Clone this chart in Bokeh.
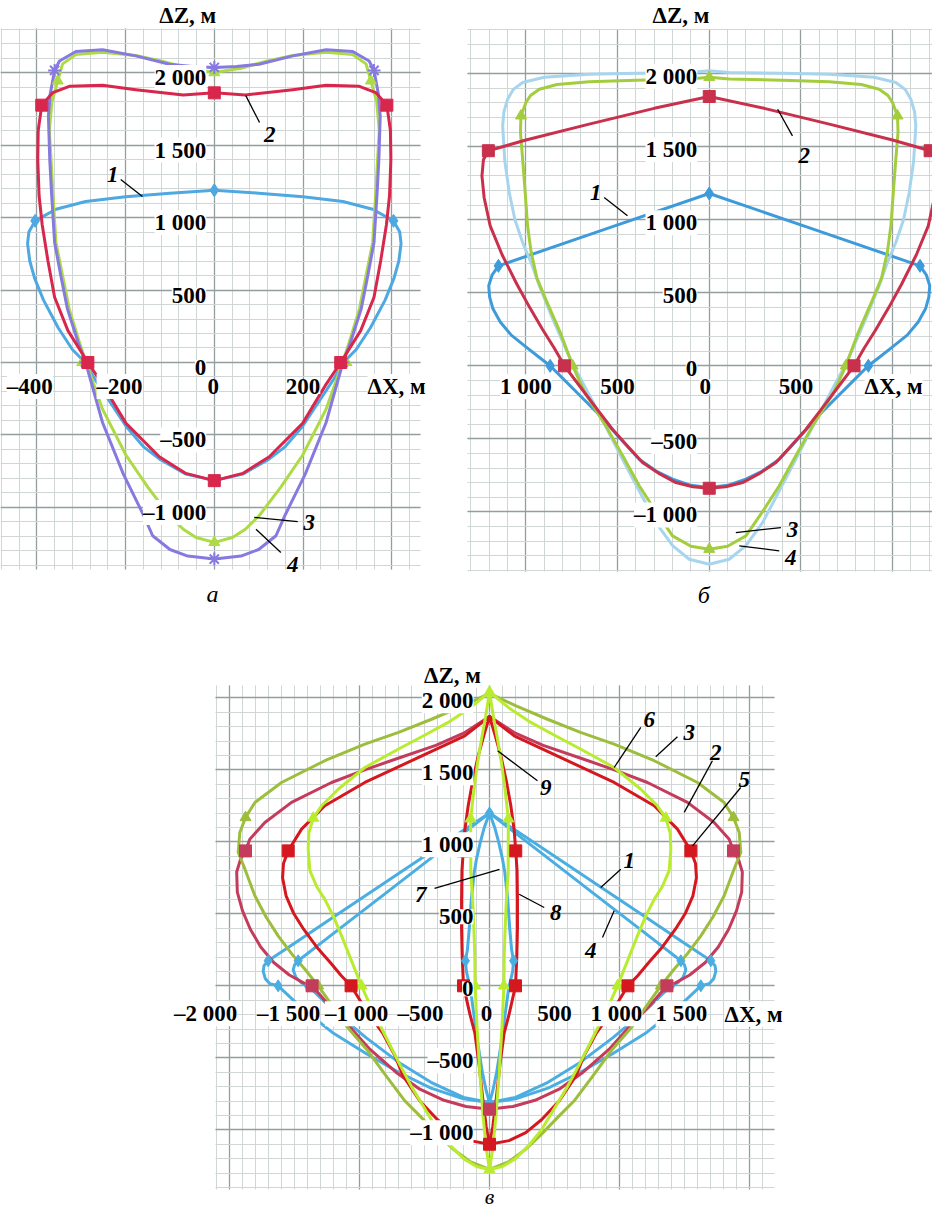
import math
from bokeh.plotting import figure
from bokeh.models import ColumnDataSource, LabelSet, Range1d, Grid, SingleIntervalTicker
from bokeh.layouts import column, row
from bokeh.core.properties import value
from bokeh.embed import file_html
from bokeh.resources import INLINE

FONT = "Liberation Serif"

# ====================== DATA (ΔX, ΔZ in metres) ======================
# ---- panel а ----
A_CURVE1 = [(0,1188),(100,1168),(200,1143),(290,1110),(357,1057),(404,977),(418,900),(421,820),(416,700),(405,580),(385,430),(352,240),(320,90),(291,0),(268,-120),(240,-250),(199,-440),(160,-580),(124,-665),(64,-770),(0,-815),
            (-64,-770),(-124,-665),(-160,-580),(-199,-440),(-240,-250),(-268,-120),(-291,0),(-320,90),(-352,240),(-385,430),(-405,580),(-416,700),(-421,820),(-418,900),(-404,977),(-357,1057),(-290,1110),(-200,1143),(-100,1168),(0,1188)]
A_CURVE2 = [(0,1860),(70,1845),(177,1882),(252,1912),(327,1905),(364,1862),(389,1775),(397,1600),(398,1400),(395,1150),(388,950),(375,700),(360,450),(330,220),(285,0),(250,-160),(199,-420),(124,-650),(64,-765),(0,-815),
            (-64,-765),(-124,-650),(-199,-420),(-250,-160),(-285,0),(-330,220),(-360,450),(-375,700),(-388,950),(-395,1150),(-398,1400),(-397,1600),(-389,1775),(-364,1862),(-327,1905),(-252,1912),(-177,1882),(-70,1845),(0,1860)]
A_CURVE3 = [(0,2000),(60,2030),(120,2080),(177,2118),(252,2140),(312,2125),(342,2060),(353,1943),(366,1800),(372,1600),(368,1400),(364,1172),(357,828),(342,598),(327,368),(304,138),(289,0),(252,-322),(199,-640),(150,-860),(101,-1057),(70,-1150),(41,-1207),(0,-1241),
            (-41,-1207),(-70,-1150),(-101,-1057),(-150,-860),(-199,-640),(-252,-322),(-289,0),(-304,138),(-327,368),(-342,598),(-357,828),(-364,1172),(-368,1400),(-372,1600),(-366,1800),(-353,1943),(-342,2060),(-312,2125),(-252,2140),(-177,2118),(-120,2080),(-60,2030),(0,2000)]
A_CURVE4 = [(0,2035),(50,2042),(101,2057),(177,2115),(252,2157),(312,2145),(349,2080),(360,2015),(370,1850),(374,1700),(371,1402),(367,1172),(360,828),(346,598),(331,368),(307,138),(290,0),(252,-414),(205,-770),(160,-1050),(139,-1195),(100,-1290),(60,-1335),(0,-1356),
            (-60,-1335),(-100,-1290),(-139,-1195),(-160,-1050),(-205,-770),(-252,-414),(-290,0),(-307,138),(-331,368),(-346,598),(-360,828),(-367,1172),(-371,1402),(-374,1700),(-370,1850),(-360,2015),(-349,2080),(-312,2145),(-252,2157),(-177,2115),(-101,2057),(-50,2042),(0,2035)]
A_MARKS1 = [(0,1188),(404,977),(-404,977),(291,0),(-291,0)]
A_MARKS2 = [(0,1860),(389,1775),(-389,1775),(285,0),(-285,0),(0,-815)]
A_MARKS3 = [(0,2000),(353,1943),(-353,1943),(298,0),(-298,0),(0,-1241)]
A_MARKS4 = [(0,2035),(360,2015),(-360,2015),(290,0),(-290,0),(0,-1356)]
A_YTICKS = [2000, 1500, 1000, 500, 0, -500, -1000]
A_YLABELS = ["2 000", "1 500", "1 000", "500", "0", "–500", "–1 000"]
A_XTICKS = [-400, -200, 0, 200]
A_XLABELS = ["–400", "–200", "0", "200"]

# ---- panel б ----
B_CURVE1 = [(0,1179),(575,932),(1150,684),(1185,620),(1203,548),(1198,470),(1180,390),(1140,300),(1080,210),(1000,130),(930,60),(868,0),(780,-110),(700,-210),(620,-310),(564,-388),(470,-520),(382,-639),(290,-720),(200,-776),(100,-818),(0,-833),
            (-100,-818),(-200,-776),(-290,-720),(-382,-639),(-470,-520),(-564,-388),(-620,-310),(-700,-210),(-780,-110),(-868,0),(-930,60),(-1000,130),(-1080,210),(-1140,300),(-1180,390),(-1198,470),(-1203,548),(-1185,620),(-1150,684),(-575,932),(0,1179)]
B_CURVE2 = [(0,1843),(300,1762),(655,1654),(1000,1545),(1205,1472),(1232,1410),(1240,1300),(1228,1150),(1195,958),(1130,760),(1050,560),(980,400),(910,250),(845,120),(790,0),(700,-150),(610,-300),(528,-434),(445,-550),(364,-662),(270,-740),(182,-799),(90,-828),(0,-838),
            (-90,-828),(-182,-799),(-270,-740),(-364,-662),(-445,-550),(-528,-434),(-610,-300),(-700,-150),(-790,0),(-845,120),(-910,250),(-980,400),(-1050,560),(-1130,760),(-1195,958),(-1228,1150),(-1240,1300),(-1232,1410),(-1205,1472),(-1000,1545),(-655,1654),(-300,1762),(0,1843)]
B_CURVE3 = [(0,1975),(109,1962),(400,1955),(655,1944),(830,1925),(927,1893),(975,1850),(1000,1802),(1027,1711),(1030,1600),(1018,1414),(1005,1200),(991,958),(972,780),(940,600),(890,450),(810,220),(745,0),(680,-180),(620,-300),(564,-411),(470,-620),(382,-821),(290,-1000),(200,-1164),(100,-1235),(0,-1255),
            (-100,-1235),(-200,-1164),(-290,-1000),(-382,-821),(-470,-620),(-564,-411),(-620,-300),(-680,-180),(-745,0),(-810,220),(-890,450),(-940,600),(-972,780),(-991,958),(-1005,1200),(-1018,1414),(-1030,1600),(-1027,1711),(-1000,1802),(-975,1850),(-927,1893),(-830,1925),(-655,1944),(-400,1955),(-109,1962),(0,1975)]
B_CURVE4 = [(0,2019),(109,2007),(400,2002),(655,1996),(900,1975),(1018,1939),(1070,1890),(1100,1825),(1120,1740),(1127,1643),(1115,1400),(1091,1186),(1060,1000),(1018,844),(970,700),(927,548),(860,340),(782,114),(740,0),(691,-114),(600,-330),(473,-639),(380,-860),(291,-1073),(200,-1230),(109,-1324),(0,-1358),
            (-109,-1324),(-200,-1230),(-291,-1073),(-380,-860),(-473,-639),(-600,-330),(-691,-114),(-740,0),(-782,114),(-860,340),(-927,548),(-970,700),(-1018,844),(-1060,1000),(-1091,1186),(-1115,1400),(-1127,1643),(-1120,1740),(-1100,1825),(-1070,1890),(-1018,1939),(-900,1975),(-655,1996),(-400,2002),(-109,2007),(0,2019)]
B_MARKS1 = [(0,1179),(1150,684),(-1150,684),(868,0),(-868,0)]
B_MARKS2 = [(0,1843),(1205,1472),(-1205,1472),(790,0),(-790,0),(0,-838)]
B_MARKS3 = [(0,1975),(1027,1711),(-1027,1711),(745,0),(-745,0),(0,-1255)]
B_YTICKS = [2000, 1500, 1000, 500, 0, -500, -1000]
B_YLABELS = ["2 000", "1 500", "1 000", "500", "0", "–500", "–1 000"]
B_XTICKS = [-1000, -500, 0, 500]
B_XLABELS = ["1 000", "500", "0", "500"]

# ---- panel в ----
C_CURVE1 = [(0,1200),(400,960),(800,720),(1200,478),(1500,296),(1703,174),(1735,140),(1741,100),(1725,50),(1690,15),(1626,0),(1450,-150),(1200,-330),(950,-470),(700,-600),(450,-710),(200,-785),(0,-810),
            (-200,-785),(-450,-710),(-700,-600),(-950,-470),(-1200,-330),(-1450,-150),(-1626,0),(-1690,15),(-1725,50),(-1741,100),(-1735,140),(-1703,174),(-1500,296),(-1200,478),(-800,720),(-400,960),(0,1200)]
C_CURVE4 = [(0,1200),(400,921),(800,642),(1200,364),(1472,174),(1500,145),(1510,110),(1490,60),(1446,20),(1395,0),(1200,-170),(950,-360),(700,-530),(450,-670),(200,-775),(0,-810),
            (-200,-775),(-450,-670),(-700,-530),(-950,-360),(-1200,-170),(-1395,0),(-1446,20),(-1490,60),(-1510,110),(-1500,145),(-1472,174),(-1200,364),(-800,642),(-400,921),(0,1200)]
C_CURVE7 = [(0,1200),(40,1100),(70,1000),(100,880),(118,787),(140,600),(156,393),(170,250),(185,174),(178,100),(160,30),(150,0),(120,-200),(90,-400),(55,-600),(25,-730),(0,-810),
            (-25,-730),(-55,-600),(-90,-400),(-120,-200),(-150,0),(-160,30),(-178,100),(-185,174),(-170,250),(-156,393),(-140,600),(-118,787),(-100,880),(-70,1000),(-40,1100),(0,1200)]
C_CURVE2 = [(0,1870),(190,1759),(413,1670),(703,1580),(960,1500),(1215,1412),(1523,1274),(1728,1134),(1844,1018),(1877,937),(1915,880),(1945,790),(1940,650),(1900,520),(1840,393),(1760,270),(1660,162),(1540,75),(1420,15),(1365,0),(1250,-120),(1100,-260),(921,-440),(720,-600),(536,-718),(350,-795),(180,-838),(0,-857),
            (-180,-838),(-350,-795),(-536,-718),(-720,-600),(-921,-440),(-1100,-260),(-1250,-120),(-1365,0),(-1420,15),(-1540,75),(-1660,162),(-1760,270),(-1840,393),(-1900,520),(-1940,650),(-1945,790),(-1915,880),(-1877,937),(-1844,1018),(-1728,1134),(-1523,1274),(-1215,1412),(-960,1500),(-703,1580),(-413,1670),(-190,1759),(0,1870)]
C_CURVE5 = [(0,1870),(190,1736),(574,1574),(959,1412),(1267,1250),(1446,1088),(1549,937),(1585,850),(1592,750),(1565,625),(1505,500),(1430,393),(1330,270),(1225,162),(1140,70),(1065,0),(950,-170),(823,-326),(730,-480),(664,-625),(536,-800),(400,-930),(279,-1019),(150,-1075),(0,-1100),
            (-150,-1075),(-279,-1019),(-400,-930),(-536,-800),(-664,-625),(-730,-480),(-823,-326),(-950,-170),(-1065,0),(-1140,70),(-1225,162),(-1330,270),(-1430,393),(-1505,500),(-1565,625),(-1592,750),(-1585,850),(-1549,937),(-1446,1088),(-1267,1250),(-959,1412),(-574,1574),(-190,1736),(0,1870)]
C_CURVE8 = [(0,1870),(40,1750),(87,1597),(130,1420),(164,1250),(190,1080),(202,937),(212,800),(215,600),(215,400),(210,200),(200,0),(150,-200),(113,-326),(80,-550),(50,-800),(25,-980),(0,-1100),
            (-25,-980),(-50,-800),(-80,-550),(-113,-326),(-150,-200),(-200,0),(-210,200),(-215,400),(-215,600),(-212,800),(-202,937),(-190,1080),(-164,1250),(-130,1420),(-87,1597),(-40,1750),(0,1870)]
C_CURVE3 = [(0,2030),(200,1945),(446,1851),(700,1760),(959,1678),(1267,1563),(1600,1412),(1805,1273),(1877,1169),(1921,1065),(1933,926),(1890,830),(1805,625),(1720,480),(1626,347),(1520,220),(1420,115),(1318,0),(1200,-150),(1100,-280),(946,-440),(800,-620),(650,-800),(536,-903),(400,-1030),(279,-1135),(150,-1220),(0,-1275),
            (-150,-1220),(-279,-1135),(-400,-1030),(-536,-903),(-650,-800),(-800,-620),(-946,-440),(-1100,-280),(-1200,-150),(-1318,0),(-1420,115),(-1520,220),(-1626,347),(-1720,480),(-1805,625),(-1890,830),(-1933,926),(-1921,1065),(-1877,1169),(-1805,1273),(-1600,1412),(-1267,1563),(-959,1678),(-700,1760),(-446,1851),(-200,1945),(0,2030)]
C_CURVE6 = [(0,2040),(150,1930),(318,1829),(500,1740),(703,1643),(959,1516),(1164,1365),(1292,1250),(1356,1165),(1390,1060),(1395,950),(1382,800),(1330,690),(1267,600),(1200,480),(1138,347),(1060,170),(985,0),(900,-170),(800,-350),(700,-530),(600,-700),(500,-850),(400,-1000),(300,-1110),(200,-1200),(100,-1255),(0,-1275),
            (-100,-1255),(-200,-1200),(-300,-1110),(-400,-1000),(-500,-850),(-600,-700),(-700,-530),(-800,-350),(-900,-170),(-985,0),(-1060,170),(-1138,347),(-1200,480),(-1267,600),(-1330,690),(-1382,800),(-1395,950),(-1390,1060),(-1356,1165),(-1292,1250),(-1164,1365),(-959,1516),(-703,1643),(-500,1740),(-318,1829),(-150,1930),(0,2040)]
C_CURVE9 = [(0,2040),(30,1870),(62,1712),(90,1560),(113,1412),(130,1280),(145,1160),(144,1000),(144,787),(130,600),(120,393),(113,200),(111,0),(95,-300),(75,-600),(50,-900),(25,-1130),(0,-1275),
            (-25,-1130),(-50,-900),(-75,-600),(-95,-300),(-111,0),(-113,200),(-120,393),(-130,600),(-144,787),(-144,1000),(-145,1160),(-130,1280),(-113,1412),(-90,1560),(-62,1712),(-30,1870),(0,2040)]
C_MARKS_BLUE = [(0,1200),(1703,174),(-1703,174),(1626,0),(-1626,0),(1472,174),(-1472,174),(1395,0),(-1395,0),(185,174),(-185,174),(0,-810)]
C_MARKS_C2 = [(1877,937),(-1877,937),(1365,0),(-1365,0),(0,-857)]
C_MARKS_C5 = [(1549,937),(-1549,937),(1065,0),(-1065,0),(0,-1100),(202,937),(-202,937),(200,0),(-200,0)]
C_MARKS_C3 = [(1877,1169),(-1877,1169),(1318,0),(-1318,0)]
C_MARKS_C6 = [(0,2040),(1356,1165),(-1356,1165),(985,0),(-985,0),(145,1160),(-145,1160),(111,0),(-111,0),(0,-1275)]
C_YTICKS = [2000, 1500, 1000, 500, 0, -500, -1000]
C_YLABELS = ["2 000", "1 500", "1 000", "500", "0", "–500", "–1 000"]
C_XTICKS = [-2000, -1500, -1000, -500, 0, 500, 1000, 1500]
C_XLABELS = ["–2 000", "–1 500", "–1 000", "–500", "0", "500", "1 000", "1 500"]

# ====================== STYLE ======================
MAJOR = "#959e9e"
MINOR = "#d0d5d5"


def xs(pts):
    return [p[0] for p in pts]


def zs(pts):
    return [p[1] for p in pts]


def make_panel(width, height, xr, yr, gx, gz, xgrid, ygrid):
    """Frame fills the whole canvas; the squared paper is limited to the
    rectangle gx x gz (data units)."""
    p = figure(width=width, height=height,
               x_range=Range1d(xr[0], xr[1]), y_range=Range1d(yr[0], yr[1]),
               x_axis_location=None, y_axis_location=None,
               toolbar_location=None, output_backend="svg",
               min_border_left=0, min_border_right=0,
               min_border_top=0, min_border_bottom=0)
    p.outline_line_color = None
    p.background_fill_color = "white"
    p.border_fill_color = "white"
    p.title.visible = False
    for g in p.grid:
        g.visible = False
    specs = ((0, xgrid, gx, gz), (1, ygrid, gz, gx))
    if "cross_bounds" in Grid.properties():
        for dim, (interval, nminor), b, cb in specs:
            g = Grid(dimension=dim,
                     ticker=SingleIntervalTicker(interval=interval, num_minor_ticks=nminor),
                     bounds=b, cross_bounds=cb,
                     grid_line_color=MAJOR, grid_line_width=1.3,
                     minor_grid_line_color=MINOR, minor_grid_line_width=1)
            p.add_layout(g, "center")
    else:
        for kind in ("minor", "major"):
            for dim, (interval, nminor), b, cb in specs:
                step = interval / nminor
                k0, k1 = math.ceil(b[0] / step), math.floor(b[1] / step)
                pos = []
                for k in range(k0, k1 + 1):
                    is_major = (k % nminor) == 0
                    if (kind == "major") == is_major:
                        pos.append(k * step)
                if dim == 0:
                    x0, x1, y0, y1 = pos, pos, [cb[0]] * len(pos), [cb[1]] * len(pos)
                else:
                    x0, x1, y0, y1 = [cb[0]] * len(pos), [cb[1]] * len(pos), pos, pos
                p.segment(x0=x0, y0=y0, x1=x1, y1=y1,
                          line_color=MAJOR if kind == "major" else MINOR,
                          line_width=1.3 if kind == "major" else 1, level="underlay")
    return p


def curve(p, pts, color, width=3):
    p.line(xs(pts), zs(pts), line_color=color, line_width=width,
           line_join="round", line_cap="round")


def marks(p, pts, marker, color, size):
    p.scatter(xs(pts), zs(pts), marker=marker, size=size,
              fill_color=color, line_color=color, line_width=2 if marker == "asterisk" else 1)


def labels(p, x, y, texts, align="center", baseline="middle", xo=0, yo=0,
           size="23px", style="bold", bg="white", color="black"):
    n = len(texts)
    xo_l = xo if isinstance(xo, list) else [xo] * n
    yo_l = yo if isinstance(yo, list) else [yo] * n
    src = ColumnDataSource(dict(x=list(x), y=list(y), text=list(texts), xo=xo_l, yo=yo_l))
    ls = LabelSet(x="x", y="y", text="text", x_offset="xo", y_offset="yo", source=src,
                  text_font=value(FONT), text_font_size=value(size),
                  text_font_style=value(style), text_align=value(align),
                  text_baseline=value(baseline), text_color=color,
                  background_fill_color=bg, level="overlay")
    p.add_layout(ls)


def leaders(p, segs):
    p.segment(x0=[s[0] for s in segs], y0=[s[1] for s in segs],
              x1=[s[2] for s in segs], y1=[s[3] for s in segs],
              line_color="black", line_width=1.3)


def ticks(p, yt, yl, xt, xl, y_xo, y_yo, x_xo, x_yo):
    labels(p, [0] * len(yt), yt, yl, align="right", xo=y_xo, yo=y_yo)
    labels(p, xt, [0] * len(xt), xl, align="center", xo=x_xo, yo=x_yo)


# ====================== PANEL а ======================
pa = make_panel(460, 607, (-482, 555), (-1690, 2497),
                (-482, 465), (-1428, 2303), (200, 5), (500, 5))
BLUE_A, RED_A, GREEN_A, PURPLE_A = "#4ea8e2", "#d8264c", "#addb45", "#8679e0"
curve(pa, A_CURVE1, BLUE_A)
curve(pa, A_CURVE3, GREEN_A)
curve(pa, A_CURVE4, PURPLE_A)
curve(pa, A_CURVE2, RED_A)
marks(pa, A_MARKS1, "diamond", BLUE_A, 13)
marks(pa, A_MARKS3, "triangle", GREEN_A, 11)
marks(pa, A_MARKS4, "asterisk", PURPLE_A, 13)
marks(pa, A_MARKS2, "square", RED_A, 12)
ticks(pa, A_YTICKS, A_YLABELS, A_XTICKS, A_XLABELS, -8, -5, [-7, -6, -1, 0], -24)
labels(pa, [-60], [2393], ["ΔZ, м"])
labels(pa, [411], [-166], ["ΔX, м"])
labels(pa, [-4], [-1600], ["а"], style="italic", size="24px", bg=None)
labels(pa, [-229, 125, 214, 177], [1297, 1572, -1103, -1391], ["1", "2", "3", "4"],
       style="bold italic", bg=None)
leaders(pa, [(-211, 1262, -162, 1145), (71, 1841, 102, 1655),
             (90, -1069, 188, -1097), (94, -1150, 150, -1310)])

# ====================== PANEL б ======================
pb = make_panel(472, 607, (-1357, 1218), (-1654, 2500),
                (-1319, 1218), (-1408, 2302), (500, 5), (500, 5))
BLUE_B, RED_B, GREEN_B, LBLUE_B = "#3e9bdb", "#c8304c", "#a3cd3d", "#a7d5ee"
curve(pb, B_CURVE1, BLUE_B)
curve(pb, B_CURVE4, LBLUE_B)
curve(pb, B_CURVE3, GREEN_B)
curve(pb, B_CURVE2, RED_B)
marks(pb, B_MARKS1, "diamond", BLUE_B, 13)
marks(pb, B_MARKS3, "triangle", GREEN_B, 11)
marks(pb, B_MARKS2, "square", RED_B, 12)
ticks(pb, B_YTICKS, B_YLABELS, B_XTICKS, B_XLABELS, -12, -3, [0, 0, -4, -5], -21)
labels(pb, [-154], [2398], ["ΔZ, м"])
labels(pb, [1006], [-141], ["ΔX, м"])
labels(pb, [-30], [-1570], ["б"], style="italic", size="24px", bg=None)
labels(pb, [-619, 518, 454, 445], [1187, 1437, -1118, -1312], ["1", "2", "3", "4"],
       style="bold italic", bg=None)
leaders(pb, [(-573, 1152, -446, 1027), (373, 1756, 454, 1574),
             (145, -1141, 391, -1107), (164, -1232, 382, -1266)])

# ====================== PANEL в ======================
pc = make_panel(932, 605, (-3762, 3408), (-1574, 2627),
                (-2108, 2192), (-1415, 2083), (1000, 10), (500, 5))
BLUE_C, CRIMSON_C, RED_C, OLIVE_C, LIME_C = "#4aaee2", "#c43c5c", "#d51820", "#9dbd3c", "#b9ec2e"
curve(pc, C_CURVE1, BLUE_C)
curve(pc, C_CURVE4, BLUE_C)
curve(pc, C_CURVE7, BLUE_C)
curve(pc, C_CURVE2, CRIMSON_C)
curve(pc, C_CURVE3, OLIVE_C)
curve(pc, C_CURVE5, RED_C)
curve(pc, C_CURVE8, RED_C)
curve(pc, C_CURVE6, LIME_C)
curve(pc, C_CURVE9, LIME_C)
marks(pc, C_MARKS_BLUE, "diamond", BLUE_C, 12)
marks(pc, C_MARKS_C3, "triangle", OLIVE_C, 11)
marks(pc, C_MARKS_C6, "triangle", LIME_C, 11)
marks(pc, C_MARKS_C2, "square", CRIMSON_C, 12)
marks(pc, C_MARKS_C5, "square", RED_C, 12)
ticks(pc, C_YTICKS, C_YLABELS, C_XTICKS, C_XLABELS, -16, -3,
      [-24, -6, -3, -4, -3, 0, -3, -3], -28)
labels(pc, [-285], [2155], ["ΔZ, м"])
labels(pc, [1808], [-197], ["ΔX, м"], align="left")
labels(pc, [0], [-1462], ["в"], style="italic", size="22px", bg=None)
labels(pc, [1228, 1536, 1741, 1959, 433, 1075, 779, -528, 510],
       [1851, 1759, 1620, 1435, 1377, 868, 243, 636, 509],
       ["6", "3", "2", "5", "9", "1", "4", "7", "8"], style="bold italic", bg=None)
leaders(pc, [(959, 1516, 1164, 1794), (1279, 1590, 1446, 1729), (1498, 1204, 1715, 1563),
             (1562, 972, 1933, 1377), (62, 1632, 369, 1424), (856, 683, 1010, 810),
             (959, 521, 869, 336), (-423, 676, 77, 808), (228, 636, 421, 544)])

layout = column(row(pa, pb), pc)
open("out.html", "w").write(file_html(layout, INLINE))
